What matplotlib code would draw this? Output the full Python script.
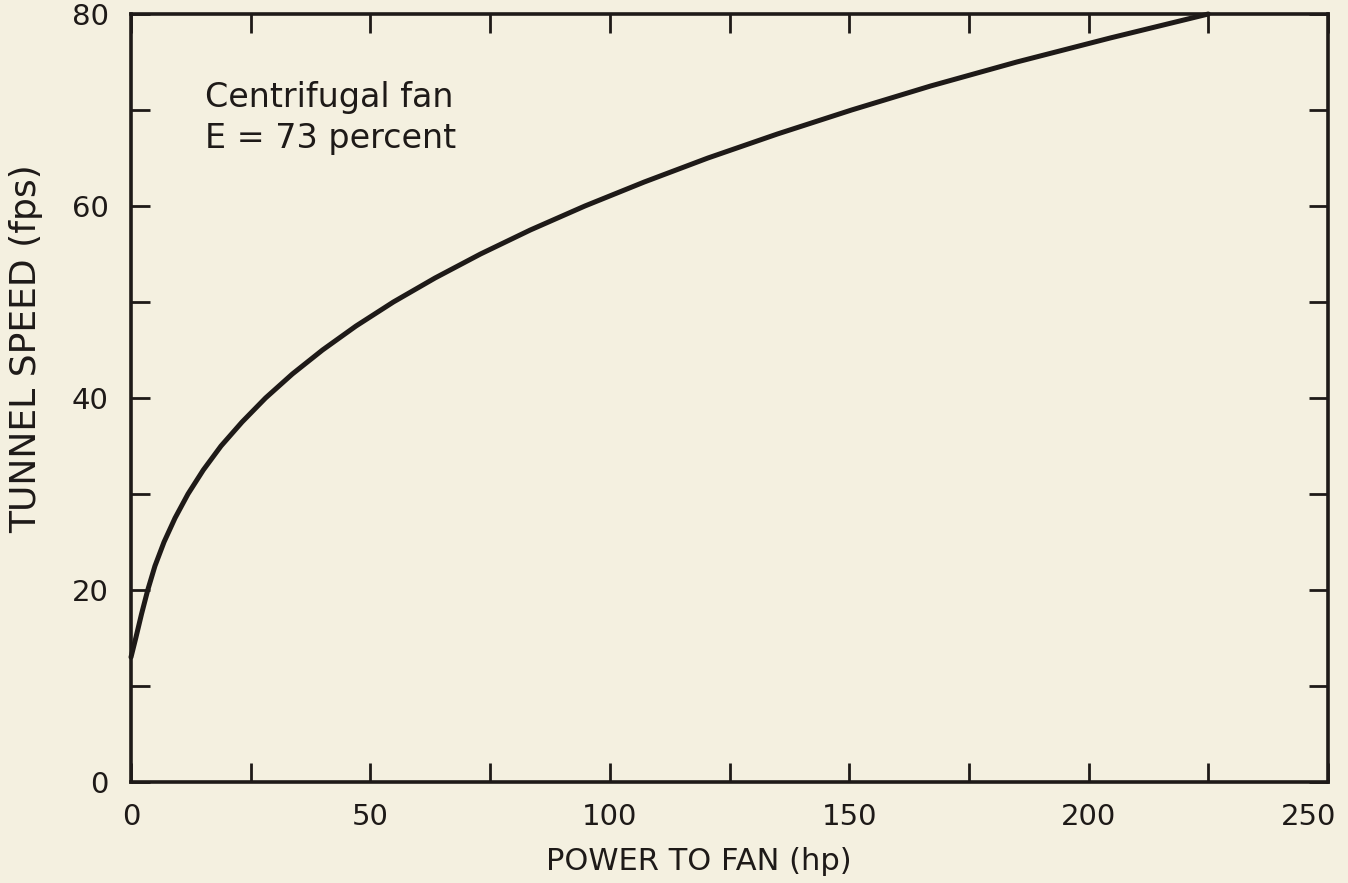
import matplotlib

matplotlib.use("Agg")
import matplotlib.pyplot as plt  # noqa: E402
from matplotlib.ticker import MultipleLocator  # noqa: E402
from matplotlib.transforms import ScaledTranslation  # noqa: E402

# Values: tunnel speed (fps) and the fan
# power (hp) where the curve crosses that speed.
speed_fps = [13.0, 15.0, 17.5, 20.0, 22.5, 25.0, 27.5, 30.0, 32.5, 35.0,
             37.5, 40.0, 42.5, 45.0, 47.5, 50.0, 52.5, 55.0, 57.5, 60.0,
             62.5, 65.0, 67.5, 70.0, 72.5, 75.0, 77.5, 80.0]
power_hp = [0.0, 1.0, 2.2, 3.5, 5.0, 6.9, 9.2, 11.9, 15.1, 18.8,
            23.2, 28.1, 33.7, 40.0, 47.0, 54.8, 63.5, 73.0, 83.4, 94.8,
            107.2, 120.5, 135.0, 150.5, 167.0, 185.0, 204.5, 225.0]

x_ticks = [0, 50, 100, 150, 200, 250]
y_ticks = [0, 20, 40, 60, 80]
note_lines = ["Centrifugal fan", "E = 73 percent"]

BG = "#F4F0E0"
INK = "#1E1A18"

fig = plt.figure(figsize=(13.48, 8.83), dpi=100, facecolor=BG)
ax = fig.add_axes([131 / 1348, 1 - 782 / 883, 1197 / 1348, 768 / 883])
ax.set_facecolor(BG)

ax.plot(power_hp, speed_fps, color=INK, linewidth=3.6,
        solid_capstyle="round", solid_joinstyle="round", clip_on=False)

ax.set_xlim(0, 250)
ax.set_ylim(0, 80)
ax.set_xticks(x_ticks)
ax.set_yticks(y_ticks)
ax.xaxis.set_minor_locator(MultipleLocator(25))
ax.yaxis.set_minor_locator(MultipleLocator(10))

for spine in ax.spines.values():
    spine.set_linewidth(2.6)
    spine.set_color(INK)

ax.tick_params(which="both", direction="in", top=True, right=True,
               length=13.5, width=2.0, color=INK)
ax.tick_params(axis="x", which="major", pad=15, labelsize=21, labelcolor=INK)
ax.tick_params(axis="y", which="major", pad=16, labelsize=21, labelcolor=INK)

# The last x label sits a little left of its tick in the reference.
last = ax.get_xticklabels()[-1]
last.set_transform(last.get_transform()
                   + ScaledTranslation(-0.19, 0, fig.dpi_scale_trans))

ax.set_xlabel("POWER TO FAN (hp)", fontsize=22, color=INK, va="center")
ax.xaxis.set_label_coords(0.474, -0.104)
ax.set_ylabel("TUNNEL SPEED (fps)", fontsize=26, color=INK, va="center")
ax.yaxis.set_label_coords(-0.088, 0.564)

ax.text(15.4, 70.3, note_lines[0], fontsize=24, color=INK, va="baseline")
ax.text(15.4, 66.0, note_lines[1], fontsize=24, color=INK, va="baseline")

fig.savefig("out.png", dpi=100, facecolor=BG)
